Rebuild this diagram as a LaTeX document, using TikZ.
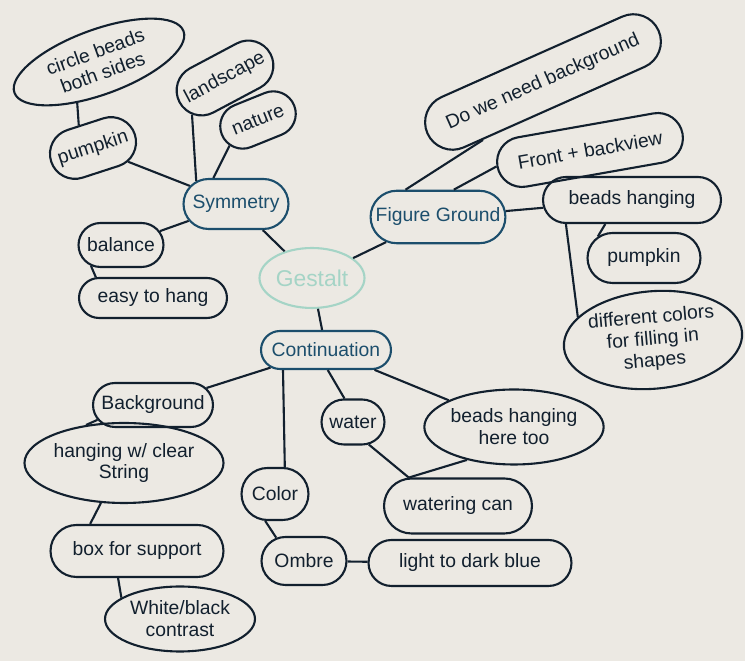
\documentclass[tikz,border=0pt]{standalone}
\usepackage{fontspec}
\setmainfont{Liberation Sans}
\usepackage{tikz}
\usetikzlibrary{shapes.misc,shapes.geometric}
\definecolor{paper}{RGB}{236,233,227}
\definecolor{inkdark}{RGB}{18,32,46}
\definecolor{inkblue}{RGB}{28,78,108}
\definecolor{inkteal}{RGB}{165,212,198}

\begin{document}
\begin{tikzpicture}[
    x=0.02cm, y=-0.02cm,
    font=\fontsize{11}{12.5}\selectfont,
    idea/.style={draw=inkdark, line width=1.2pt, rounded rectangle, align=center, text=inkdark, inner sep=2pt},
    blob/.style={idea, ellipse, inner sep=0pt},
    topic/.style={idea, draw=inkblue, text=inkblue},
    core/.style={idea, ellipse, inner sep=0pt, draw=inkteal, text=inkteal, font=\fontsize{13}{15}\selectfont},
    link/.style={draw=inkdark, line width=1.2pt}
  ]
  \fill[paper] (0,0) rectangle (745,661);
  \useasboundingbox (0,0) rectangle (745,661);

  % centre and the three principles
  \node[core, minimum width=2.1cm, minimum height=1.2cm]   (gest) at (312,278) {Gestalt};
  \node[topic, minimum width=2.24cm, minimum height=1cm]   (sym)  at (236,204) {Symmetry};
  \node[topic, minimum width=2.66cm, minimum height=1.05cm] (fg)  at (438,217) {Figure Ground};
  \node[topic, minimum width=2.74cm, minimum height=0.76cm] (cont) at (326,350) {Continuation};

  % symmetry branch
  \node[blob, rotate=20, minimum width=3.6cm, minimum height=1.3cm] (circ)  at (99,62)   {circle beads\\both sides};
  \node[idea, rotate=18, minimum width=1.9cm, minimum height=1cm]   (pumpL) at (93,148)  {pumpkin};
  \node[idea, rotate=28, minimum width=2.2cm, minimum height=1cm]   (land)  at (225,78)  {landscape};
  \node[idea, rotate=22, minimum width=1.7cm, minimum height=0.9cm] (nat)   at (258,120) {nature};
  \node[idea, minimum width=1.84cm, minimum height=0.88cm]          (bal)   at (121,245) {balance};
  \node[idea, minimum width=3.1cm, minimum height=0.8cm]            (easy)  at (153,298) {easy to hang};

  % figure ground branch
  \node[idea, rotate=24, minimum width=5.2cm, minimum height=1.1cm] (dwn)   at (543,82)  {Do we need background};
  \node[idea, rotate=10, minimum width=3.9cm, minimum height=1cm]   (front) at (590,150) {Front + backview};
  \node[idea, minimum width=3.7cm, minimum height=0.92cm]           (bh)    at (632,200) {beads hanging};
  \node[idea, minimum width=2.4cm, minimum height=1cm]              (pumpR) at (644,258) {pumpkin};
  \node[blob, rotate=5, minimum width=3.55cm, minimum height=1.95cm] (diff) at (653,340) {different colors\\for filling in\\shapes};

  % continuation branch
  \node[idea, minimum width=2.54cm, minimum height=0.88cm] (bg)    at (153,405) {Background};
  \node[blob, minimum width=3.9cm, minimum height=1.6cm]   (hang)  at (124,463) {hanging w/ clear\\String};
  \node[idea, minimum width=3.6cm, minimum height=1.04cm]  (box)   at (137,551) {box for support};
  \node[blob, minimum width=3cm, minimum height=1.3cm]     (wb)    at (180,619) {White/black\\contrast};
  \node[idea, minimum width=1.48cm, minimum height=1.04cm] (color) at (275,494) {Color};
  \node[idea, minimum width=1.84cm, minimum height=0.96cm] (ombre) at (304,561) {Ombre};
  \node[idea, minimum width=1.4cm, minimum height=0.9cm]   (water) at (353,422) {water};
  \node[blob, minimum width=3.4cm, minimum height=1.5cm]   (htoo)  at (514,427) {beads hanging\\here too};
  \node[idea, minimum width=3.1cm, minimum height=1.1cm]   (wcan)  at (458,506) {watering can};
  \node[idea, minimum width=4.2cm, minimum height=0.92cm]  (light) at (470,563) {light to dark blue};

  \draw[link] (gest) -- (sym);
  \draw[link] (gest) -- (fg);
  \draw[link] (gest) -- (cont);

  \draw[link] (sym) -- (pumpL);
  \draw[link] (sym.150) -- (land.200);
  \draw[link] (sym.131) -- (nat.200);
  \draw[link] (sym) -- (bal);
  \draw[link] (pumpL.104) -- (circ.222);
  \draw[link] (bal.215) -- (easy.160);

  \draw[link] (fg.140) -- (dwn.200);
  \draw[link] (fg.60) -- (front.west);
  \draw[link] (fg) -- (bh);
  \draw[link] (bh.222) -- (pumpR.155);
  \draw[link] (bh.200) -- (diff.158);

  \draw[link] (cont) -- (bg);
  \draw[link] (cont.205) -- (color.70);
  \draw[link] (cont.275) -- (water.110);
  \draw[link] (cont) -- (htoo);
  \draw[link] (bg.195) -- (hang.135);
  \draw[link] (hang.240) -- (box.150);
  \draw[link] (box.235) -- (wb.160);
  \draw[link] (color.250) -- (ombre.140);
  \draw[link] (ombre) -- (light);
  \draw[link] (water.305) -- (wcan.150);
  \draw[link] (htoo.215) -- (wcan.150);
\end{tikzpicture}
\end{document}
